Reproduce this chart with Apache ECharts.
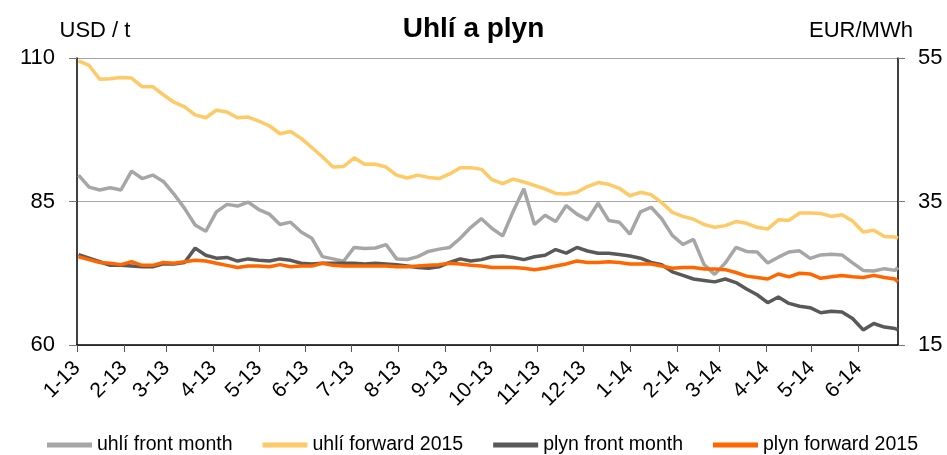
<!DOCTYPE html>
<html>
<head>
<meta charset="utf-8">
<title>Uhlí a plyn</title>
<script src="https://cdn.jsdelivr.net/npm/echarts@6/dist/echarts.min.js"></script>
<style>
  html, body { margin: 0; padding: 0; background: #fff; }
  #chart { width: 947px; height: 455px; }
</style>
</head>
<body>
<div id="chart"></div>
<script>
// weekly samples
const dates = [
  '2013-01-02','2013-01-09','2013-01-16','2013-01-23','2013-01-30','2013-02-06','2013-02-13','2013-02-20','2013-02-27','2013-03-06',
  '2013-03-13','2013-03-20','2013-03-27','2013-04-03','2013-04-10','2013-04-17','2013-04-24','2013-05-01','2013-05-08','2013-05-15',
  '2013-05-22','2013-05-29','2013-06-05','2013-06-12','2013-06-19','2013-06-26','2013-07-03','2013-07-10','2013-07-17','2013-07-24',
  '2013-07-31','2013-08-07','2013-08-14','2013-08-21','2013-08-28','2013-09-04','2013-09-11','2013-09-18','2013-09-25','2013-10-02',
  '2013-10-09','2013-10-16','2013-10-23','2013-10-30','2013-11-06','2013-11-13','2013-11-20','2013-11-27','2013-12-04','2013-12-11',
  '2013-12-18','2013-12-25','2014-01-01','2014-01-08','2014-01-15','2014-01-22','2014-01-29','2014-02-05','2014-02-12','2014-02-19',
  '2014-02-26','2014-03-05','2014-03-12','2014-03-19','2014-03-26','2014-04-02','2014-04-09','2014-04-16','2014-04-23','2014-04-30',
  '2014-05-07','2014-05-14','2014-05-21','2014-05-28','2014-06-04','2014-06-11','2014-06-18','2014-06-25','2014-06-27'
];

// USD / t
const coalFront = [
  89.6, 87.5, 87.0, 87.4, 87.0, 90.3, 89.0, 89.6, 88.5, 86.3,
  83.8, 80.9, 79.8, 83.2, 84.5, 84.2, 84.9, 83.6, 82.8, 81.0,
  81.4, 79.7, 78.6, 75.4, 75.0, 74.6, 77.0, 76.8, 76.9, 77.5,
  75.0, 74.9, 75.4, 76.3, 76.7, 77.0, 78.6, 80.5, 82.0, 80.3,
  79.0, 83.3, 87.2, 81.0, 82.6, 81.5, 84.3, 82.8, 81.8, 84.7,
  81.7, 81.4, 79.3, 83.2, 84.0, 82.0, 79.1, 77.5, 78.4, 74.0,
  72.3, 74.3, 77.0, 76.3, 76.2, 74.3, 75.3, 76.2, 76.4, 75.1,
  75.7, 75.8, 75.7, 74.3, 73.0, 72.9, 73.3, 73.0, 73.5
];
const coalFwd = [
  109.5, 108.7, 106.3, 106.4, 106.6, 106.5, 105.0, 105.0, 103.6, 102.3,
  101.5, 100.1, 99.6, 100.9, 100.6, 99.6, 99.7, 99.0, 98.2, 96.8,
  97.2, 96.0, 94.4, 92.8, 91.0, 91.1, 92.6, 91.5, 91.5, 91.0,
  89.6, 89.1, 89.6, 89.2, 89.0, 89.8, 90.9, 90.9, 90.6, 88.8,
  88.1, 88.9, 88.4, 87.8, 87.2, 86.4, 86.3, 86.6, 87.6, 88.3,
  88.0, 87.3, 86.0, 86.6, 86.2, 84.8, 83.1, 82.4, 81.9, 81.0,
  80.5, 80.8, 81.5, 81.2, 80.5, 80.2, 81.8, 81.7, 83.0, 83.0,
  82.9, 82.4, 82.7, 81.6, 79.7, 80.0, 78.9, 78.8, 78.6
];

// EUR/MWh
const gasFront = [
  27.6, 27.1, 26.6, 26.1, 26.1, 26.0, 25.9, 25.9, 26.3, 26.3,
  26.5, 28.5, 27.5, 27.1, 27.2, 26.7, 27.0, 26.8, 26.7, 27.0,
  26.8, 26.4, 26.3, 26.4, 26.4, 26.4, 26.4, 26.3, 26.4, 26.3,
  26.2, 26.0, 25.8, 25.7, 25.9, 26.5, 27.0, 26.7, 26.9, 27.3,
  27.4, 27.2, 26.9, 27.3, 27.5, 28.3, 27.8, 28.6, 28.1, 27.8,
  27.8, 27.6, 27.4, 27.1, 26.5, 26.2, 25.2, 24.7, 24.2, 24.0,
  23.8, 24.2, 23.7, 22.8, 22.0, 20.9, 21.7, 20.8, 20.4, 20.2,
  19.5, 19.7, 19.6, 18.7, 17.1, 18.0, 17.5, 17.3, 17.1
];
const gasFwd = [
  27.3, 26.9, 26.5, 26.4, 26.2, 26.6, 26.1, 26.1, 26.5, 26.4,
  26.6, 26.8, 26.7, 26.4, 26.1, 25.8, 26.0, 26.0, 25.9, 26.2,
  25.9, 26.0, 26.0, 26.4, 26.1, 26.0, 26.0, 26.0, 26.0, 26.0,
  25.9, 25.9, 26.0, 26.1, 26.2, 26.4, 26.3, 26.1, 26.0, 25.8,
  25.8, 25.8, 25.7, 25.5, 25.7, 26.0, 26.3, 26.7, 26.5, 26.5,
  26.6, 26.5, 26.3, 26.3, 26.3, 26.0, 25.7, 25.8, 25.8, 25.6,
  25.6, 25.5, 25.1, 24.6, 24.4, 24.2, 24.9, 24.5, 25.0, 24.9,
  24.3, 24.5, 24.7, 24.5, 24.4, 24.7, 24.4, 24.2, 23.8
];

const monthStarts = [
  '2013-01-01','2013-02-01','2013-03-01','2013-04-01','2013-05-01','2013-06-01',
  '2013-07-01','2013-08-01','2013-09-01','2013-10-01','2013-11-01','2013-12-01',
  '2014-01-01','2014-02-01','2014-03-01','2014-04-01','2014-05-01','2014-06-01'
];
const monthLabels = [
  '1-13','2-13','3-13','4-13','5-13','6-13','7-13','8-13','9-13','10-13','11-13','12-13',
  '1-14','2-14','3-14','4-14','5-14','6-14'
];

const seriesNames = ['uhlí front month', 'uhlí forward 2015', 'plyn front month', 'plyn forward 2015'];
const seriesColors = ['#a6a6a6', '#ffc966', '#595959', '#ff6600'];

// dates -> day number (UTC) so the x axis can be a plain value axis
const toDay = s => {
  const p = s.split('-');
  return Math.round(Date.UTC(+p[0], +p[1] - 1, +p[2]) / 86400000);
};
const tickValues = monthStarts.map(toDay);
const pairs = vals => dates.map((d, i) => [toDay(d), vals[i]]);

const font = 'Liberation Sans, Arial, sans-serif';
const chart = echarts.init(document.getElementById('chart'));

const lineSeries = (idx, vals, yIdx) => ({
  name: seriesNames[idx],
  type: 'line',
  yAxisIndex: yIdx,
  data: pairs(vals),
  showSymbol: false,
  symbol: 'none',
  smooth: false,
  animation: false,
  lineStyle: { width: 3.5, color: seriesColors[idx] },
  itemStyle: { color: seriesColors[idx] }
});

chart.setOption({
  backgroundColor: '#fff',
  textStyle: { fontFamily: font },
  title: {
    text: 'Uhlí a plyn',
    left: 'center',
    top: 10,
    textStyle: { fontSize: 28, fontWeight: 'bold', color: '#000', fontFamily: font }
  },
  grid: { left: 77, right: 49, top: 58, bottom: 110, containLabel: false, outerBoundsMode: 'none' },
  legend: {
    data: seriesNames,
    left: 42,
    top: 430,
    icon: 'rect',
    itemWidth: 45,
    itemHeight: 5,
    itemGap: 30,
    textStyle: { fontSize: 19.5, color: '#000', fontFamily: font }
  },
  xAxis: {
    type: 'value',
    min: toDay('2013-01-01'),
    max: toDay('2014-06-27'),
    axisLine: { show: true, onZero: false, lineStyle: { color: '#000', width: 1.5 } },
    axisTick: { show: true, length: 7, customValues: tickValues, lineStyle: { color: '#555' } },
    axisLabel: {
      customValues: tickValues,
      rotate: 45,
      margin: 20,
      fontSize: 21,
      color: '#000',
      fontFamily: font,
      formatter: val => {
        const i = tickValues.indexOf(val);
        return i >= 0 ? monthLabels[i] : '';
      }
    },
    splitLine: { show: false }
  },
  yAxis: [
    {
      type: 'value',
      min: 60,
      max: 110,
      interval: 25,
      position: 'left',
      name: 'USD / t',
      nameLocation: 'end',
      nameGap: 16,
      nameTextStyle: { fontSize: 22, color: '#000', align: 'center', padding: [0, 0, 0, 36] },
      axisLine: { show: true, lineStyle: { color: '#000', width: 1.5 } },
      axisTick: { show: true, length: 8, lineStyle: { color: '#777' } },
      axisLabel: { fontSize: 22, color: '#000', margin: 22 },
      splitLine: { show: true, lineStyle: { color: '#a6a6a6', width: 1.2 } }
    },
    {
      type: 'value',
      min: 15,
      max: 55,
      interval: 20,
      position: 'right',
      name: 'EUR/MWh',
      nameLocation: 'end',
      nameGap: 16,
      nameTextStyle: { fontSize: 22, color: '#000', align: 'center', padding: [0, 74, 0, 0] },
      axisLine: { show: true, lineStyle: { color: '#000', width: 1.5 } },
      axisTick: { show: true, length: 7, lineStyle: { color: '#777' } },
      axisLabel: { fontSize: 22, color: '#000', margin: 20 },
      splitLine: { show: false }
    }
  ],
  series: [
    lineSeries(0, coalFront, 0),
    lineSeries(1, coalFwd, 0),
    lineSeries(2, gasFront, 1),
    lineSeries(3, gasFwd, 1)
  ]
});
</script>
</body>
</html>
